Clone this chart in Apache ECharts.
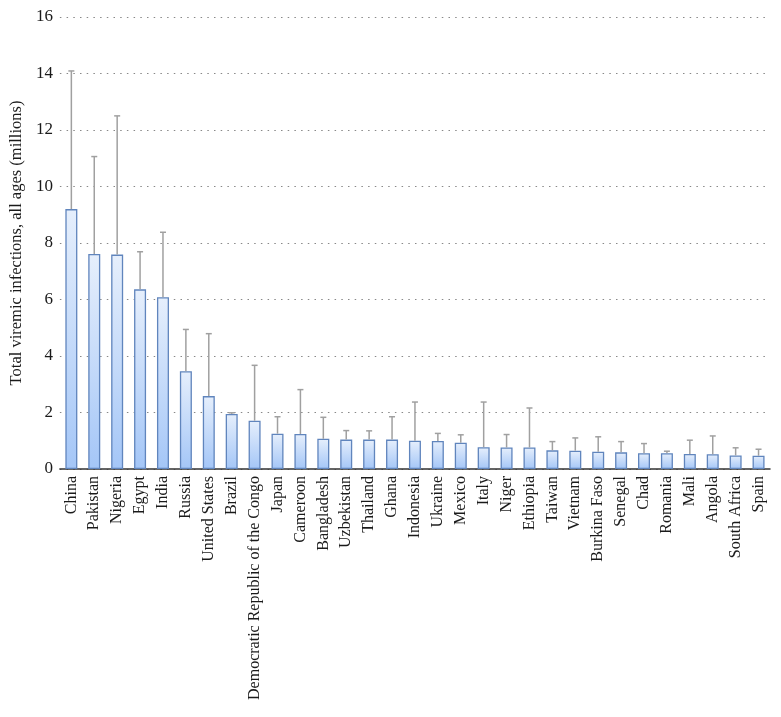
<!DOCTYPE html>
<html>
<head>
<meta charset="utf-8">
<script src="https://cdn.jsdelivr.net/npm/echarts@6/dist/echarts.min.js"></script>
<style>html,body{margin:0;padding:0;background:#fff}#c{width:781px;height:717px}</style>
</head>
<body>
<div id="c"></div>
<script>
const countries = ["China","Pakistan","Nigeria","Egypt","India","Russia","United States","Brazil","Democratic Republic of the Congo","Japan","Cameroon","Bangladesh","Uzbekistan","Thailand","Ghana","Indonesia","Ukraine","Mexico","Italy","Niger","Ethiopia","Taiwan","Vietnam","Burkina Faso","Senegal","Chad","Romania","Mali","Angola","South Africa","Spain"];
const infections = [9.20,7.61,7.59,6.36,6.08,3.46,2.58,1.95,1.71,1.25,1.24,1.07,1.04,1.04,1.04,1.00,0.99,0.93,0.77,0.76,0.76,0.66,0.65,0.61,0.59,0.56,0.56,0.53,0.52,0.48,0.47];
const upperBound = [14.09,11.06,12.50,7.69,8.38,4.94,4.79,1.99,3.67,1.85,2.81,1.83,1.36,1.35,1.85,2.37,1.26,1.21,2.37,1.22,2.16,0.97,1.10,1.14,0.97,0.90,0.63,1.02,1.17,0.75,0.70];
const yTicks = [0,2,4,6,8,10,12,14,16];

const chart = echarts.init(document.getElementById('c'));
const font = '"Liberation Serif","DejaVu Serif",serif';
chart.setOption({
  animation: false,
  grid: {left: 58, right: 11, top: 17, bottom: 248},
  xAxis: {
    type: 'category', data: countries,
    axisLine: {lineStyle: {color: '#333', width: 1.5}},
    axisTick: {show: false},
    axisLabel: {rotate: 90, interval: 0, fontFamily: font, fontSize: 16, color: '#1a1a1a', margin: 7}
  },
  yAxis: {
    type: 'value', min: yTicks[0], max: yTicks[yTicks.length-1], interval: 2,
    name: 'Total viremic infections, all ages (millions)',
    nameLocation: 'middle', nameGap: 33,
    nameTextStyle: {fontFamily: font, fontSize: 16.5, color: '#1a1a1a'},
    axisLine: {show: false}, axisTick: {show: false},
    axisLabel: {fontFamily: font, fontSize: 17, color: '#1a1a1a', margin: 7},
    splitLine: {lineStyle: {type: [1.5, 5.2], color: '#888', width: 1}}
  },
  series: [
    {
      type: 'bar', data: infections, barWidth: 12,
      itemStyle: {
        color: new echarts.graphic.LinearGradient(0,0,0,1,[{offset:0,color:'#e6effc'},{offset:1,color:'#a4c6f7'}]),
        borderColor: '#6085bd', borderWidth: 1.3
      },
      z: 2
    },
    {
      type: 'custom',
      data: countries.map((c,i)=>[i, infections[i], upperBound[i]]),
      renderItem: function(params, api){
        const x = api.value(0);
        const lo = api.coord([x, api.value(1)]);
        const hi = api.coord([x, api.value(2)]);
        const hw = 3;
        return {type: 'group', children: [
          {type:'line', shape:{x1:lo[0],y1:lo[1],x2:hi[0],y2:hi[1]}, style:{stroke:'#a0a0a0',lineWidth:1.5}},
          {type:'line', shape:{x1:hi[0]-hw,y1:hi[1],x2:hi[0]+hw,y2:hi[1]}, style:{stroke:'#a0a0a0',lineWidth:1.5}}
        ]};
      },
      z: 3
    }
  ]
});
</script>
</body>
</html>
